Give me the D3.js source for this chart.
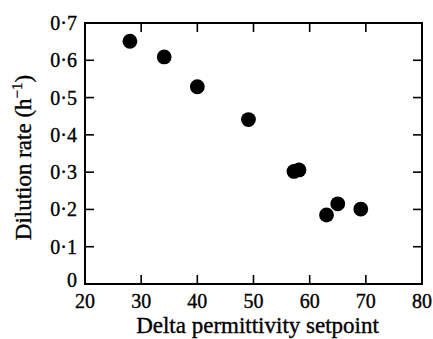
<!DOCTYPE html>
<html>
<head>
<meta charset="utf-8">
<script src="https://cdn.jsdelivr.net/npm/d3@7"></script>
<style>
  html, body { margin: 0; padding: 0; background: #fff; }
  svg { display: block; }
  text { font-family: "Liberation Serif", "Times New Roman", serif; fill: #000; stroke: #000; stroke-width: 0.35px; }
</style>
</head>
<body>
<svg id="chart" width="433" height="339"></svg>
<script>
// Delta permittivity setpoint vs. steady-state dilution rate
const setpoints = [28.0, 34.1, 40.0, 49.1, 57.2, 58.1, 63.0, 65.0, 69.1];
const dilutionRates = [0.651, 0.609, 0.529, 0.441, 0.302, 0.306, 0.185, 0.215, 0.201];

const xTicks = [20, 30, 40, 50, 60, 70, 80];
const yTicks = [0, 0.1, 0.2, 0.3, 0.4, 0.5, 0.6, 0.7];
const yTickLabels = ["0", "0·1", "0·2", "0·3", "0·4", "0·5", "0·6", "0·7"];

const svg = d3.select("#chart");
const plotLeft = 85, plotRight = 422, plotTop = 23, plotBottom = 284;

const x = d3.scaleLinear().domain([20, 80]).range([plotLeft, plotRight]);
const y = d3.scaleLinear().domain([0, 0.7]).range([plotBottom, plotTop]);

const tickLen = 9;
const innerX = xTicks.filter(t => t > 20 && t < 80);
const innerY = yTicks.filter(t => t > 0 && t < 0.7);

// Frame
svg.append("rect")
  .attr("x", plotLeft).attr("y", plotTop)
  .attr("width", plotRight - plotLeft).attr("height", plotBottom - plotTop)
  .attr("fill", "none").attr("stroke", "#000").attr("stroke-width", 2);

// Inward ticks on all four sides
const ticks = svg.append("g").attr("stroke", "#000").attr("stroke-width", 1.6);
innerX.forEach(t => {
  ticks.append("line").attr("x1", x(t)).attr("x2", x(t)).attr("y1", plotBottom).attr("y2", plotBottom - tickLen);
  ticks.append("line").attr("x1", x(t)).attr("x2", x(t)).attr("y1", plotTop).attr("y2", plotTop + tickLen);
});
innerY.forEach(t => {
  ticks.append("line").attr("x1", plotLeft).attr("x2", plotLeft + tickLen).attr("y1", y(t)).attr("y2", y(t));
  ticks.append("line").attr("x1", plotRight).attr("x2", plotRight - tickLen).attr("y1", y(t)).attr("y2", y(t));
});

// Tick labels
svg.append("g").selectAll("text").data(xTicks).join("text")
  .attr("x", d => x(d)).attr("y", 308)
  .attr("text-anchor", "middle").attr("font-size", 20)
  .text(d => d);

svg.append("g").selectAll("text").data(yTicks).join("text")
  .attr("x", 77).attr("y", d => y(d) + (d === 0 ? 3 : 7))
  .attr("text-anchor", "end").attr("font-size", 20)
  .text((d, i) => yTickLabels[i]);

// Axis titles
svg.append("text")
  .attr("x", 257.5).attr("y", 333)
  .attr("text-anchor", "middle").attr("font-size", 23)
  .text("Delta permittivity setpoint");

const yTitle = svg.append("text")
  .attr("transform", "translate(31,157.5) rotate(-90)")
  .attr("text-anchor", "middle").attr("font-size", 23);
yTitle.append("tspan").text("Dilution rate (h");
yTitle.append("tspan").attr("font-size", 15).attr("dy", -9).text("−1");
yTitle.append("tspan").attr("dy", 9).text(")");

// Data points
svg.append("g").selectAll("circle").data(setpoints).join("circle")
  .attr("cx", d => x(d))
  .attr("cy", (d, i) => y(dilutionRates[i]))
  .attr("r", 7.4)
  .attr("fill", "#000");
</script>
</body>
</html>
